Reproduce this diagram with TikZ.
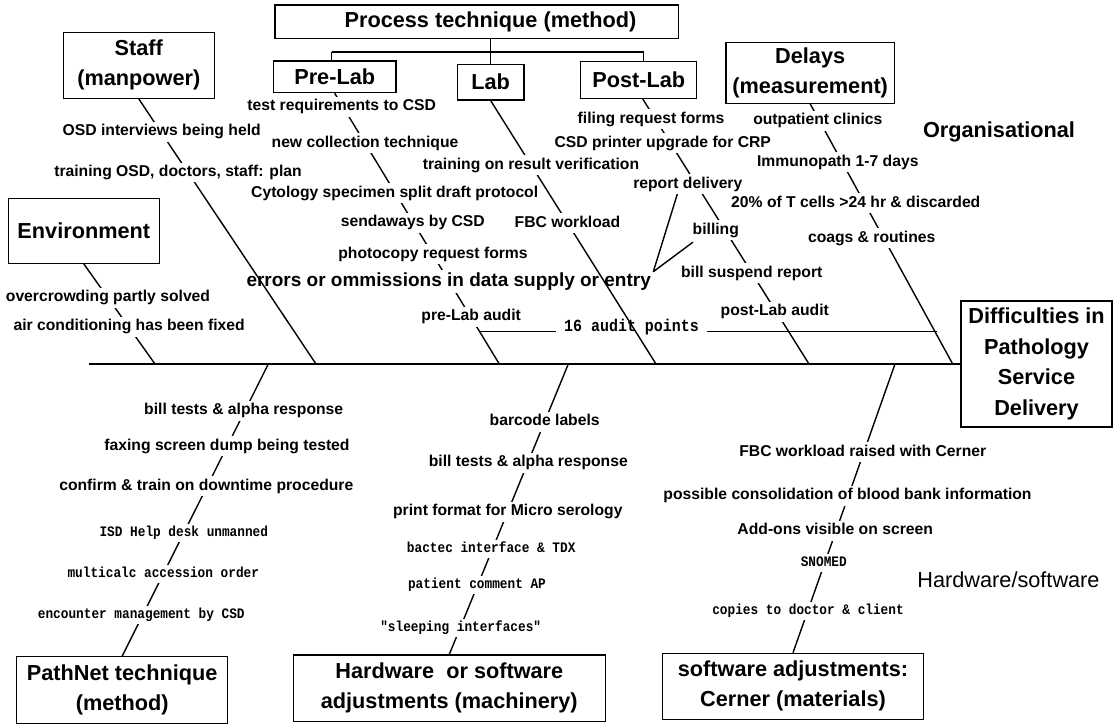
\documentclass[tikz,border=0pt]{standalone}
\usepackage{fontspec}
\setmainfont{Liberation Sans}
\newfontfamily\monofam[FakeStretch=0.88]{Liberation Mono}
\begin{document}
\begin{tikzpicture}[x=1pt,y=-1pt,
  box/.style={draw, line width=1.2pt, inner sep=0pt, align=center,
    font=\fontsize{21.7}{30}\selectfont\bfseries},
  ttl/.style={inner sep=0pt, align=center, font=\fontsize{21.7}{30}\selectfont\bfseries},
  lbl/.style={fill=white, inner xsep=1.5pt, inner ysep=2.5pt, text height=11.5pt, text depth=3.3pt,
    font=\fontsize{15.7}{18}\selectfont\bfseries},
  biglbl/.style={fill=white, inner xsep=1.5pt, inner ysep=2.5pt, text height=14pt, text depth=4pt,
    font=\fontsize{19}{22}\selectfont\bfseries},
  mlbl/.style={fill=white, inner xsep=1.5pt, inner ysep=2.5pt, text height=10pt, text depth=3pt,
    font=\monofam\bfseries\fontsize{14.5}{16}\selectfont},
  bone/.style={line width=1.4pt},
  link/.style={line width=1.8pt}]
\useasboundingbox (0,0) rectangle (1114,724);

% ---------- boxes ----------
\node[box, minimum width=403.7pt, minimum height=33.3pt] (proc) at (476.9,21.7) {};
\node[ttl] (proctxt) at (490.5,22.3) {Process technique (method)};
\node[box, minimum width=122.7pt, minimum height=31.7pt] (prelab) at (334.7,76.8) {Pre-Lab};
\node[box, minimum width=66.7pt, minimum height=35.7pt] (lab) at (490.7,82.2) {Lab};
\node[box, minimum width=116pt, minimum height=36.6pt] (post) at (638.7,80) {Post-Lab};
\node[box, minimum width=168.3pt, minimum height=61pt] (delays) at (810.2,72.8) {Delays\\(measurement)};
\node[box, minimum width=151pt, minimum height=66pt] (staff) at (138.8,65.3) {Staff\\(manpower)};
\node[box, minimum width=151pt, minimum height=65pt] (env) at (83.8,230.8) {Environment};
\node[box, minimum width=211pt, minimum height=66.6pt] (pathnet) at (122.2,690) {PathNet technique\\(method)};
\node[box, minimum width=312pt, minimum height=66.7pt] (hw) at (449.3,688.3) {Hardware\ \ or software\\adjustments (machinery)};
\node[box, minimum width=260.6pt, minimum height=66pt] (sw) at (793,686.3) {software adjustments:\\Cerner (materials)};
\node[box, minimum width=151pt, minimum height=126pt, font=\fontsize{21.7}{30.7}\selectfont\bfseries] (head) at (1036.5,364) {Difficulties in\\Pathology\\Service\\Delivery};

\node[ttl] (org) at (999,132) {Organisational};
\node[inner sep=0pt, font=\fontsize{21.7}{26}\selectfont] (hwsw) at (1008.5,580) {Hardware/software};

% ---------- process tree ----------
\coordinate (tb) at (0,51.7);
\draw[bone] (proc.south -| lab.north) -- (lab.north);
\draw[link] ([xshift=-3pt]prelab.north |- tb) -- ([xshift=5pt]post.north |- tb);
\draw[bone] ([xshift=-3pt]prelab.north) -- ([xshift=-3pt]prelab.north |- tb);
\draw[bone] ([xshift=5pt]post.north) -- ([xshift=5pt]post.north |- tb);

% ---------- spine ----------
\coordinate (tail) at (89,364);
\draw[link] (tail) -- (head.west);

% ---------- Environment ----------
\coordinate (sEnv) at (155,364);
\draw[bone] (env.south) -- (sEnv);
\node[lbl] (e1) at (108,297.7) {overcrowding partly solved};
\node[lbl] (e2) at (129.2,326.7) {air conditioning has been fixed};

% ---------- Pre-Lab ----------
\coordinate (sPre) at (499.3,364);
\draw[bone] (prelab.south) -- (sPre);
\node[lbl] (p1) at (341.7,106.7) {test requirements to CSD};
\node[lbl] (p2) at (365,143.3) {new collection technique};
\node[lbl] (p3) at (394.7,193.3) {Cytology specimen split draft protocol};
\node[lbl] (p4) at (412.8,222.7) {sendaways by CSD};
\node[lbl] (p5) at (433,254.3) {photocopy request forms};
\node[biglbl] (err) at (448.7,281) {errors or ommissions in data supply or entry};
\node[lbl] (p6) at (471.2,316.7) {pre-Lab audit};

% ---------- Delays ----------
\coordinate (sDel) at (952.7,364);
\draw[bone] (delays.south) -- (sDel);
\node[lbl] (d1) at (817.8,120.7) {outpatient clinics};
\node[lbl] (d2) at (837.8,162.3) {Immunopath 1-7 days};
\node[lbl] (d3) at (855.8,203.3) {20\% of T cells >24 hr \& discarded};
\node[lbl] (d4) at (871.7,238.3) {coags \& routines};

% ---------- audit points ----------
\coordinate (a1) at (480,331.7);
\coordinate (a2) at (937,331.7);
\node[inner xsep=8pt, inner ysep=0pt, anchor=base, font=\monofam\bfseries\fontsize{17}{19}\selectfont] (aud) at (631.5,331.7) {16 audit points};
\draw[bone] (a1) -- (aud.west |- a1);
\draw[bone] (aud.east |- a2) -- (a2);

% ---------- Staff ----------
\coordinate (sStaff) at (316,364);
\draw[bone] (staff.south) -- (sStaff);
\node[lbl] (st1) at (161.7,131.7) {OSD interviews being held};
\node[lbl] (st2) at (178,172.5) {training OSD, doctors, staff: plan};

% ---------- Lab ----------
\coordinate (sLab) at (656,364);
\draw[bone] (lab.south) -- (sLab);
\node[lbl] (l1) at (531,165) {training on result verification};
\node[lbl] (l2) at (567.5,223.3) {FBC workload};

% ---------- Post-Lab ----------
\coordinate (sPost) at (809,364);
\draw[bone] ([xshift=4pt]post.south) -- (sPost);
\node[lbl] (q1) at (651,119.3) {filing request forms};
\node[lbl] (q2) at (662.8,143.3) {CSD printer upgrade for CRP};
\node[lbl] (rd) at (687.8,184) {report delivery};
\node[lbl] (bl) at (715.8,230) {billing};
\node[lbl] (q5) at (751.7,273.3) {bill suspend report};
\node[lbl] (q6) at (774.8,311.7) {post-Lab audit};
\coordinate (meet) at (653.3,271.7);
\draw[bone] ([xshift=-10.5pt]rd.south) -- (meet);
\draw[bone] ([xshift=2pt,yshift=-2pt]bl.south west) -- (meet);

% ---------- PathNet ----------
\coordinate (sPath) at (268.3,364);
\draw[bone] (sPath) -- (pathnet.north);
\node[lbl] (n1) at (243.7,410.7) {bill tests \& alpha response};
\node[lbl] (n2) at (227,446) {faxing screen dump being tested};
\node[lbl] (n3) at (206.3,486) {confirm \& train on downtime procedure};
\node[mlbl] (n4) at (183.8,533.3) {ISD Help desk unmanned};
\node[mlbl] (n5) at (163.3,574.3) {multicalc accession order};
\node[mlbl] (n6) at (141.3,615) {encounter management by CSD};

% ---------- Hardware ----------
\coordinate (sHw) at (568.3,364);
\draw[bone] (sHw) -- (hw.north);
\node[lbl] (h1) at (544.7,421.7) {barcode labels};
\node[lbl] (h2) at (528.3,462.7) {bill tests \& alpha response};
\node[lbl] (h3) at (507.8,511.7) {print format for Micro serology};
\node[mlbl] (h4) at (491.2,549.3) {bactec interface \& TDX};
\node[mlbl] (h5) at (477,585) {patient comment AP};
\node[mlbl] (h6) at (460.7,627.7) {"sleeping interfaces"};

% ---------- Software ----------
\coordinate (sSw) at (895,364);
\draw[bone] (sSw) -- (sw.north);
\node[lbl] (w1) at (862.8,452.3) {FBC workload raised with Cerner};
\node[lbl] (w2) at (847.5,495.7) {possible consolidation of blood bank information};
\node[lbl] (w3) at (835.2,530.7) {Add-ons visible on screen};
\node[mlbl] (w4) at (823.8,562.7) {SNOMED};
\node[mlbl] (w5) at (808,611) {copies to doctor \& client};
\end{tikzpicture}
\end{document}
